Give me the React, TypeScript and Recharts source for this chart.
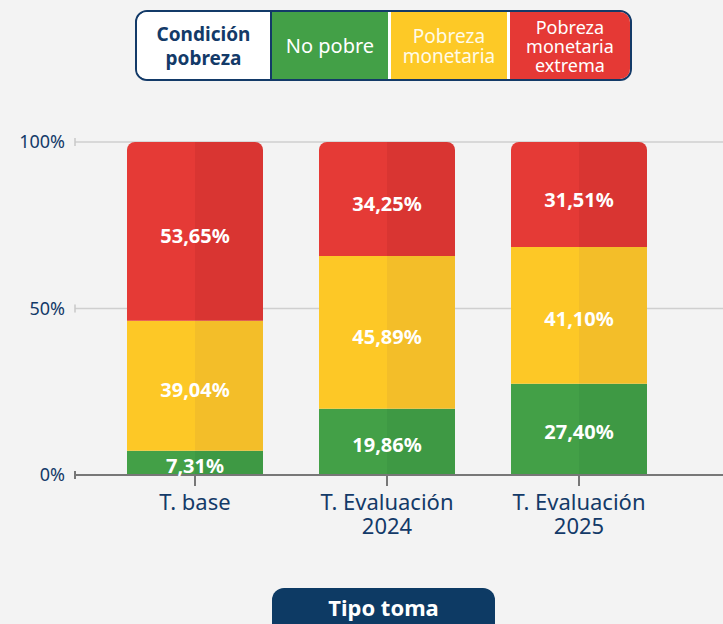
import { Bar, BarChart, CartesianGrid, LabelList, XAxis, YAxis } from 'recharts';

const categories = ['T. base', 'T. Evaluación\n2024', 'T. Evaluación\n2025'];
const noPobre = [7.31, 19.86, 27.4];
const pobrezaMonetaria = [39.04, 45.89, 41.1];
const pobrezaExtrema = [53.65, 34.25, 31.51];
const yTicks = [0, 0.5, 1];

const data = categories.map((tipo, i) => ({
  tipo,
  noPobre: noPobre[i],
  monetaria: pobrezaMonetaria[i],
  extrema: pobrezaExtrema[i],
}));

const navy = '#133a68';
const font = "'Noto Sans', sans-serif";

const fmt = (v: any) => `${Number(v).toFixed(2).replace('.', ',')}%`;

const XTick = ({ x, y, payload }: any) => {
  const lines = String(payload.value).split('\n');
  return (
    <text x={x} y={y} textAnchor='middle' fill={navy} fontSize={22} fontFamily={font}>
      {lines.map((l, i) => (
        <tspan key={i} x={x} dy={i === 0 ? 20 : 24}>
          {l}
        </tspan>
      ))}
    </text>
  );
};

const YTick = ({ x, y, payload }: any) => {
  const zero = payload.value === 0;
  return (
    <g>
      <text x={x} y={y} dy={6} textAnchor='end' fill={navy} fontSize={18} fontFamily={font}>
        {`${Math.round(payload.value * 100)}%`}
      </text>
      <line
        x1={x + 10}
        x2={x + 10}
        y1={y - 4}
        y2={y + 4}
        stroke={zero ? '#777' : '#c8c8c8'}
        strokeWidth={zero ? 2 : 1.5}
      />
    </g>
  );
};

const labelStyle = { fill: '#fff', fontSize: 20, fontWeight: 700, fontFamily: font };

const cell = (bg: string, w: number, extra: any = {}) => ({
  background: bg,
  width: w,
  height: '100%',
  display: 'flex',
  alignItems: 'center',
  justifyContent: 'center',
  textAlign: 'center' as const,
  color: '#fff',
  ...extra,
});

export default function App() {
  return (
    <div
      style={{
        position: 'absolute',
        left: 0,
        top: 0,
        width: 723,
        height: 624,
        background: '#f3f3f3',
        overflow: 'hidden',
        fontFamily: font,
      }}
    >
      <div
        style={{
          position: 'absolute',
          left: 135,
          top: 10,
          width: 497,
          height: 71,
          boxSizing: 'border-box',
          border: `2px solid ${navy}`,
          borderRadius: 12,
          overflow: 'hidden',
          display: 'flex',
          background: '#fff',
        }}
      >
        <div
          style={cell('#fff', 134, {
            color: navy,
            fontWeight: 700,
            fontSize: 19,
            lineHeight: '24px',
            borderRight: `2px solid ${navy}`,
          })}
        >
          Condición
          <br />
          pobreza
        </div>
        <div style={cell('#43a047', 117, { fontSize: 20 })}>No pobre</div>
        <div style={{ width: 3 }} />
        <div style={cell('#fdc926', 117, { fontSize: 19, lineHeight: '20px', color: '#fffbe8' })}>
          Pobreza
          <br />
          monetaria
        </div>
        <div style={{ width: 3 }} />
        <div style={cell('#e53935', 121, { fontSize: 18, lineHeight: '19px', paddingTop: 1 })}>
          Pobreza
          <br />
          monetaria
          <br />
          extrema
        </div>
      </div>

      <div style={{ position: 'absolute', left: 0, top: 0 }}>
        <BarChart
          width={723}
          height={624}
          data={data}
          stackOffset='expand'
          margin={{ top: 142, right: 0, bottom: 89, left: 0 }}
        >
          <defs>
            <linearGradient id='gGreen' x1='0' y1='0' x2='1' y2='0'>
              <stop offset='0' stopColor='#43a047' />
              <stop offset='0.5' stopColor='#43a047' />
              <stop offset='0.5' stopColor='#3e9944' />
              <stop offset='1' stopColor='#3e9944' />
            </linearGradient>
            <linearGradient id='gYellow' x1='0' y1='0' x2='1' y2='0'>
              <stop offset='0' stopColor='#fdc826' />
              <stop offset='0.5' stopColor='#fdc826' />
              <stop offset='0.5' stopColor='#f3be29' />
              <stop offset='1' stopColor='#f3be29' />
            </linearGradient>
            <linearGradient id='gRed' x1='0' y1='0' x2='1' y2='0'>
              <stop offset='0' stopColor='#e53a36' />
              <stop offset='0.5' stopColor='#e53a36' />
              <stop offset='0.5' stopColor='#d93532' />
              <stop offset='1' stopColor='#d93532' />
            </linearGradient>
          </defs>
          <CartesianGrid vertical={false} stroke='#cfcfcf' strokeWidth={1.5} />
          <XAxis
            dataKey='tipo'
            height={60}
            padding={{ left: 24, right: 48 }}
            axisLine={{ stroke: '#777', strokeWidth: 2 }}
            tickLine={{ stroke: '#777', strokeWidth: 2 }}
            tickSize={11}
            tickMargin={4}
            tick={<XTick />}
            interval={0}
          />
          <YAxis
            width={75}
            ticks={yTicks}
            domain={[0, 1]}
            axisLine={false}
            tickLine={false}
            tickSize={0}
            tickMargin={10}
            tick={<YTick />}
          />
          <Bar dataKey='noPobre' stackId='a' fill='url(#gGreen)' barSize={136} isAnimationActive={false}>
            <LabelList dataKey='noPobre' position='center' formatter={fmt} style={labelStyle} dy={3} />
          </Bar>
          <Bar dataKey='monetaria' stackId='a' fill='url(#gYellow)' barSize={136} isAnimationActive={false}>
            <LabelList dataKey='monetaria' position='center' formatter={fmt} style={labelStyle} dy={4} />
          </Bar>
          <Bar
            dataKey='extrema'
            stackId='a'
            fill='url(#gRed)'
            barSize={136}
            radius={[8, 8, 0, 0]}
            isAnimationActive={false}
          >
            <LabelList dataKey='extrema' position='center' formatter={fmt} style={labelStyle} dy={5} />
          </Bar>
        </BarChart>
      </div>

      <div
        style={{
          position: 'absolute',
          left: 272,
          top: 588,
          width: 223,
          height: 50,
          borderRadius: 12,
          background: '#0d3a64',
          color: '#fff',
          fontWeight: 700,
          fontSize: 22,
          textAlign: 'center',
          lineHeight: '38px',
        }}
      >
        Tipo toma
      </div>
    </div>
  );
}
